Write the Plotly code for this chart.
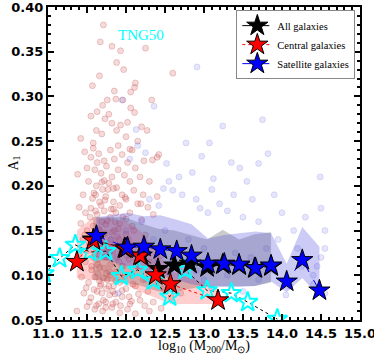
import plotly.graph_objects as go

# ---- scatter clouds ----
central_x = [11.71, 11.67, 11.82, 11.93, 12.25, 11.88, 11.97, 12.60, 11.66, 11.57, 12.12, 12.11, 12.06,
             11.85, 11.87, 11.76, 11.96, 12.33, 11.70, 11.78, 12.06, 12.11, 11.63, 11.73, 11.55, 11.82,
             11.93, 12.02, 12.20, 11.42, 11.62, 11.69, 11.88, 12.00, 12.15, 12.27, 12.40, 12.34, 12.42,
             11.90, 11.58, 12.05, 12.23,
             11.47, 11.58, 11.55, 11.65, 11.72, 11.80, 11.85, 11.95, 12.02, 12.08, 12.12, 11.50, 11.60,
             11.68, 11.75, 11.82, 11.90, 11.98, 12.05, 12.18, 12.30, 11.38, 11.52, 11.62, 11.70, 11.78,
             11.88, 11.95, 12.10, 12.22, 12.40, 11.45, 11.57, 11.66, 11.74, 11.84, 11.92, 12.00, 12.15,
             12.28, 11.40, 11.48, 11.55, 11.63, 11.72, 11.80, 11.87, 11.96, 12.05, 12.20, 12.35,
             11.42, 11.50, 11.58, 11.66, 11.74, 11.82, 11.90, 12.00, 12.10, 12.25, 11.45, 11.53, 11.62,
             11.70, 11.78, 11.86, 11.94, 12.04, 12.15, 12.30, 12.45, 11.40, 11.48, 11.56, 11.64, 11.72,
             11.80, 11.88, 11.96, 12.08, 12.22, 12.38, 12.52, 11.43, 11.52, 11.60, 11.68, 11.76, 11.84,
             11.92, 12.00, 12.12, 12.28, 12.48, 12.62, 11.46, 11.55, 11.63, 11.71, 11.79, 11.87, 11.95,
             12.05, 12.18, 12.35, 12.58, 11.50, 11.60, 11.70, 11.82, 11.92, 12.02, 12.12, 12.30, 12.45,
             11.37, 11.65, 11.75, 11.58, 11.88, 11.68, 12.70,
             11.61, 11.69, 11.77, 11.85, 11.64, 11.72, 11.80, 11.67, 11.75, 11.83, 11.91, 11.59, 11.73,
             11.81, 11.69, 11.77, 11.86, 11.63, 11.71, 11.79, 11.94, 12.03, 11.66, 11.74,
             11.54, 11.61, 11.68, 11.76, 11.84, 11.92, 12.00, 12.08, 11.57, 11.65, 11.73, 11.81, 11.89,
             11.97, 12.06, 11.52, 11.60, 11.67, 11.75, 11.83, 11.91, 12.01, 12.13, 11.56, 11.64, 11.71,
             11.79, 11.87, 11.98, 12.09, 11.49, 11.59, 11.69, 11.78, 11.86, 11.95, 12.04, 12.16, 11.53,
             11.62, 11.74, 11.83, 11.93, 12.07, 12.24, 11.61, 11.72, 11.84, 11.99, 12.19, 11.47, 11.66]
central_y = [0.380, 0.361, 0.356, 0.351, 0.354, 0.338, 0.330, 0.326, 0.323, 0.312, 0.315, 0.310, 0.305,
             0.306, 0.297, 0.296, 0.296, 0.296, 0.290, 0.280, 0.287, 0.282, 0.283, 0.275, 0.278, 0.270,
             0.268, 0.271, 0.266, 0.253, 0.262, 0.258, 0.262, 0.255, 0.250, 0.262, 0.232, 0.229, 0.235,
             0.245, 0.248, 0.241, 0.228,
             0.238, 0.242, 0.232, 0.236, 0.228, 0.240, 0.230, 0.235, 0.226, 0.240, 0.220, 0.220, 0.218,
             0.214, 0.222, 0.210, 0.218, 0.212, 0.205, 0.210, 0.205, 0.213, 0.205, 0.200, 0.196, 0.203,
             0.198, 0.190, 0.195, 0.190, 0.188, 0.190, 0.186, 0.182, 0.188, 0.182, 0.178, 0.185, 0.180,
             0.176, 0.176, 0.170, 0.175, 0.168, 0.172, 0.165, 0.170, 0.165, 0.170, 0.162, 0.168,
             0.158, 0.150, 0.155, 0.150, 0.157, 0.148, 0.152, 0.146, 0.150, 0.145, 0.140, 0.135, 0.130,
             0.138, 0.128, 0.135, 0.125, 0.118, 0.110, 0.115, 0.122, 0.125, 0.115, 0.110, 0.118, 0.108,
             0.112, 0.104, 0.110, 0.100, 0.095, 0.098, 0.105, 0.098, 0.092, 0.098, 0.090, 0.095, 0.088,
             0.092, 0.085, 0.088, 0.082, 0.085, 0.092, 0.080, 0.075, 0.082, 0.072, 0.078, 0.070, 0.076,
             0.068, 0.072, 0.070, 0.075, 0.065, 0.062, 0.060, 0.064, 0.058, 0.062, 0.057, 0.060, 0.063,
             0.060, 0.068, 0.085, 0.120, 0.120, 0.145, 0.080,
             0.142, 0.160, 0.132, 0.150, 0.112, 0.120, 0.100, 0.088, 0.102, 0.082, 0.140, 0.192, 0.184,
             0.174, 0.204, 0.196, 0.160, 0.226, 0.146, 0.126, 0.130, 0.140, 0.094, 0.070,
             0.165, 0.172, 0.178, 0.161, 0.174, 0.158, 0.163, 0.155, 0.144, 0.152, 0.147, 0.140, 0.143,
             0.137, 0.134, 0.128, 0.124, 0.133, 0.120, 0.127, 0.115, 0.122, 0.118, 0.106, 0.102, 0.097,
             0.104, 0.094, 0.099, 0.090, 0.086, 0.084, 0.080, 0.088, 0.079, 0.083, 0.076, 0.079, 0.070,
             0.066, 0.064, 0.068, 0.066, 0.071, 0.066, 0.190, 0.206, 0.197, 0.187, 0.180, 0.145, 0.109]

satellite_x = [12.91, 12.36, 13.24, 13.75, 12.77, 13.07, 12.97, 13.35, 13.82, 13.70, 12.52, 12.13, 12.15,
               12.25, 14.49, 12.05, 11.95, 12.55, 12.68, 12.85, 13.12, 13.46, 13.55, 12.60, 12.48, 12.72,
               12.90, 13.10, 13.20, 13.38, 13.62, 13.90, 14.30, 14.50, 12.30, 12.42, 12.95, 13.05, 13.30,
               13.50, 13.70, 14.00, 14.55, 14.55, 14.50, 14.45, 14.40, 14.15, 14.20, 13.95, 12.20, 12.50,
               12.80, 13.00, 13.40, 13.60, 13.80, 12.00, 11.80, 12.10, 12.40, 12.70, 13.00, 13.30, 13.70,
               14.10, 14.55, 11.95, 12.60, 13.10, 13.50, 14.05, 14.40, 12.25, 11.90, 12.90, 13.20, 13.90,
               14.25, 12.35, 12.65]
satellite_y = [0.333, 0.289, 0.267, 0.274, 0.248, 0.248, 0.233, 0.226, 0.236, 0.225, 0.225, 0.263, 0.245,
               0.237, 0.210, 0.230, 0.296, 0.205, 0.210, 0.215, 0.208, 0.220, 0.205, 0.195, 0.197, 0.190,
               0.185, 0.196, 0.180, 0.190, 0.185, 0.190, 0.165, 0.175, 0.185, 0.178, 0.175, 0.170, 0.172,
               0.165, 0.160, 0.170, 0.150, 0.130, 0.120, 0.110, 0.100, 0.150, 0.130, 0.140, 0.160, 0.150,
               0.140, 0.130, 0.125, 0.120, 0.130, 0.150, 0.140, 0.125, 0.115, 0.100, 0.095, 0.100, 0.095,
               0.088, 0.080, 0.110, 0.085, 0.085, 0.082, 0.078, 0.090, 0.095, 0.080, 0.105, 0.115, 0.105,
               0.110, 0.140, 0.130]

# ---- binned medians (stars) with their spread ----
all_x = [11.58, 11.98, 12.20, 12.41, 12.62, 12.82, 13.04, 13.24, 13.45, 13.65, 13.86]
all_y = [0.140, 0.130, 0.122, 0.107, 0.111, 0.113, 0.109, 0.112, 0.111, 0.108, 0.110]
all_lo = [0.095, 0.092, 0.088, 0.082, 0.082, 0.085, 0.088, 0.088, 0.088, 0.088, 0.092]
all_hi = [0.165, 0.165, 0.158, 0.152, 0.150, 0.145, 0.140, 0.151, 0.140, 0.146, 0.148]

cen_x = [11.37, 11.58, 12.00, 12.18, 12.38, 12.57, 13.18]
cen_y = [0.115, 0.139, 0.130, 0.122, 0.100, 0.090, 0.072]
cen_lo = [0.097, 0.095, 0.090, 0.082, 0.075, 0.068, 0.068]
cen_hi = [0.150, 0.165, 0.160, 0.150, 0.130, 0.105, 0.085]

sat_x = [11.62, 12.02, 12.23, 12.44, 12.65, 12.84, 13.05, 13.26, 13.45, 13.66, 13.86, 14.06, 14.26, 14.48]
sat_y = [0.144, 0.131, 0.132, 0.129, 0.127, 0.122, 0.113, 0.113, 0.112, 0.108, 0.111, 0.093, 0.117, 0.083]
sat_lo = [0.120, 0.110, 0.105, 0.100, 0.095, 0.090, 0.087, 0.087, 0.087, 0.088, 0.093, 0.081, 0.097, 0.076]
sat_hi = [0.165, 0.170, 0.166, 0.167, 0.162, 0.157, 0.141, 0.145, 0.147, 0.149, 0.147, 0.113, 0.154, 0.132]

tng_x = [10.95, 11.15, 11.35, 11.54, 11.74, 11.94, 12.15, 12.35, 12.56, 12.76, 13.04, 13.35, 13.56, 13.94]
tng_y = [0.102, 0.119, 0.134, 0.126, 0.127, 0.099, 0.106, 0.094, 0.076, 0.106, 0.083, 0.080, 0.070, 0.051]

SERIF = "Liberation Serif"

fig = go.Figure()

fig.add_trace(go.Scatter(x=central_x, y=central_y, mode="markers", showlegend=False, hoverinfo="skip",
                         marker=dict(size=6, color="rgba(205,70,70,0.2)",
                                     line=dict(color="rgba(180,40,40,0.28)", width=0.8))))
fig.add_trace(go.Scatter(x=satellite_x, y=satellite_y, mode="markers", showlegend=False, hoverinfo="skip",
                         marker=dict(size=6, color="rgba(110,110,235,0.18)",
                                     line=dict(color="rgba(90,90,220,0.22)", width=0.8))))


def band(x, lo, hi, fill):
    fig.add_trace(go.Scatter(x=x + x[::-1], y=hi + lo[::-1], fill="toself", fillcolor=fill,
                             line=dict(width=0), mode="lines", showlegend=False, hoverinfo="skip"))


band(all_x, all_lo, all_hi, "rgba(110,110,110,0.35)")
band(cen_x, cen_lo, cen_hi, "rgba(255,60,60,0.25)")
band(sat_x, sat_lo, sat_hi, "rgba(70,70,220,0.28)")

fig.add_trace(go.Scatter(x=tng_x, y=tng_y, mode="lines+markers", showlegend=False,
                         line=dict(color="black", width=1, dash="dot"),
                         marker=dict(symbol="star-open", size=15, color="cyan", line=dict(width=2))))

for name, xs, ys, col, dash in [("All galaxies", all_x, all_y, "black", "dashdot"),
                                ("Central galaxies", cen_x, cen_y, "red", "dot"),
                                ("Satellite galaxies", sat_x, sat_y, "blue", "dash")]:
    fig.add_trace(go.Scatter(x=xs, y=ys, mode="lines+markers", name=name,
                             line=dict(color=col, width=1, dash=dash),
                             marker=dict(symbol="star", size=16, color=col,
                                         line=dict(color="black", width=1))))

fig.add_annotation(x=12.19, y=0.369, text="TNG50", showarrow=False,
                   font=dict(family=SERIF, size=15, color="cyan"))
# axis titles as paper annotations so they sit exactly where the reference has them
fig.add_annotation(x=0.5, y=0, xref="paper", yref="paper", yshift=-16, yanchor="top", showarrow=False,
                   text="log<sub>10</sub> (M<sub>200</sub>/M<sub>⊙</sub>)",
                   font=dict(family=SERIF, size=14, color="black"))
fig.add_annotation(x=0, y=0.5, xref="paper", yref="paper", xshift=-34, xanchor="center", showarrow=False,
                   text="A<sub>1</sub>", textangle=-90, font=dict(family=SERIF, size=14, color="black"))

axis_common = dict(ticks="inside", mirror="allticks", showline=True, linecolor="black", linewidth=2,
                   ticklen=6, tickwidth=1.5, tickcolor="black", showgrid=False, zeroline=False,
                   ticklabeloverflow="allow", automargin=False,
                   tickfont=dict(family="DejaVu Sans", size=13, color="black", weight="bold"),
                   minor=dict(ticks="inside", ticklen=3, tickcolor="black", showgrid=False))

fig.update_layout(
    width=374, height=355, margin=dict(l=48, r=14, t=7, b=35),
    paper_bgcolor="white", plot_bgcolor="white",
    xaxis=dict(range=[11, 15], dtick=0.5, tickformat=".1f", **axis_common),
    yaxis=dict(range=[0.05, 0.40], dtick=0.05, tickformat=".2f", **axis_common),
    legend=dict(x=0.985, y=0.99, xanchor="right", yanchor="top", bgcolor="white",
                bordercolor="#888", borderwidth=1, font=dict(family=SERIF, size=10.5, color="black"),
                itemwidth=30, tracegroupgap=0),
)
fig.update_xaxes(minor=dict(dtick=0.1))
fig.update_yaxes(minor=dict(dtick=0.01))

# the page's default body margin would push the 374x355 figure off the window
fig.write_html("out.html", config={"displayModeBar": False},
               post_script="document.body.style.margin = '0px';")
